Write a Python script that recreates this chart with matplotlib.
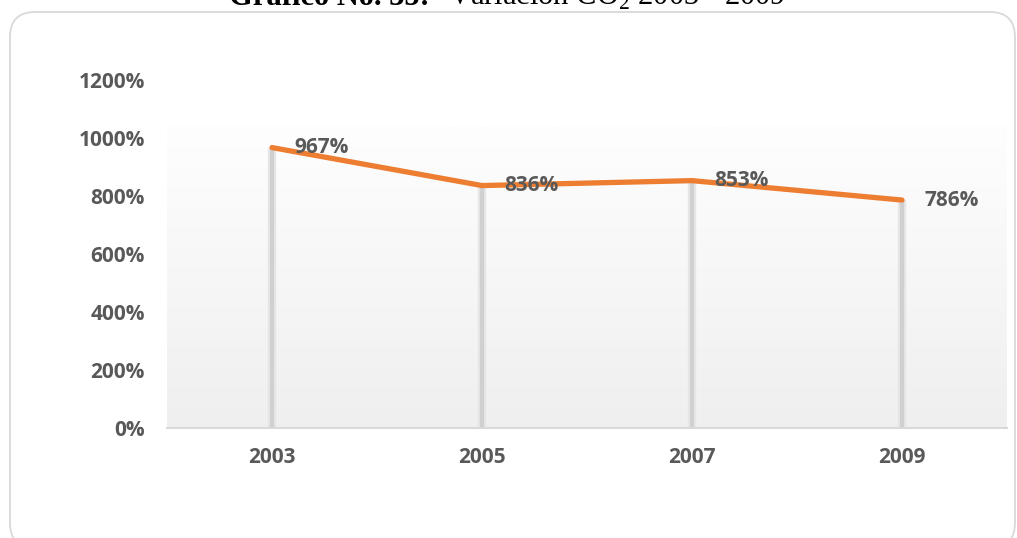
import matplotlib.pyplot as plt
import numpy as np
from matplotlib.patches import FancyBboxPatch
from matplotlib.colors import LinearSegmentedColormap

years = ['2003', '2005', '2007', '2009']
co2_change = [967, 836, 853, 786]
y_ticks = [0, 200, 400, 600, 800, 1000, 1200]

plt.rcParams['mathtext.fontset'] = 'custom'
plt.rcParams['mathtext.rm'] = 'Liberation Serif'

fig = plt.figure(figsize=(10.17, 5.38), dpi=100)

# rounded chart border
border = FancyBboxPatch((0.10, -0.10), 10.05, 5.36,
                        boxstyle='round,pad=0,rounding_size=0.25',
                        transform=fig.dpi_scale_trans, facecolor='none',
                        edgecolor='#d9d9d9', linewidth=1.3, zorder=0)
fig.patches.append(border)

# title, cut off at the top of the page
fig.text(430 / 1017, 1 - 5 / 538, 'Gráfico No. 35:', ha='right', va='baseline',
         fontsize=22, fontweight='bold', family='Liberation Serif')
fig.text(448 / 1017, 1 - 5 / 538, 'Variación CO$_2$ 2003 - 2009', ha='left',
         va='baseline', fontsize=22, family='Liberation Serif')

ax = fig.add_axes([167 / 1017, 1 - 428 / 538, 840 / 1017, 348 / 538])
ax.set_zorder(2)
ax.set_facecolor('none')
x = np.arange(len(years))

ax.set_xlim(-0.5, len(years) - 0.5)
ax.set_ylim(0, 1200)

# plot area fill: white fading to light grey
cmap = LinearSegmentedColormap.from_list('bg', ['#efefef', '#fefefe'])
grad = np.linspace(0, 1, 256).reshape(-1, 1)
ax.imshow(grad, cmap=cmap, origin='lower', aspect='auto',
          extent=[-0.5, len(years) - 0.5, 0, 1040], zorder=0)

# drop lines
ax.vlines(x, 0, co2_change, color='#e6e6e6', linewidth=6, zorder=1)
ax.vlines(x, 0, co2_change, color='#d0d0d0', linewidth=3, zorder=1)

ax.plot(x, co2_change, color='#ed7d31', linewidth=3.8,
        solid_capstyle='round', solid_joinstyle='round', zorder=3)

for xi, v in zip(x, co2_change):
    ax.annotate(f'{v}%', (xi, v), xytext=(16, 0), textcoords='offset points',
                ha='left', va='center', fontsize=15, fontweight='bold',
                family='Open Sans', color='#595959', zorder=4)

ax.set_xticks(x)
ax.set_xticklabels(years)
ax.set_yticks(y_ticks)
ax.set_yticklabels([f'{t}%' for t in y_ticks])
for lab in ax.get_xticklabels() + ax.get_yticklabels():
    lab.set_family('Open Sans')
    lab.set_fontweight('bold')
    lab.set_fontsize(15)
    lab.set_color('#595959')
ax.tick_params(axis='y', length=0, pad=16)
ax.tick_params(axis='x', length=0, pad=14)

for side in ['top', 'right', 'left']:
    ax.spines[side].set_visible(False)
ax.spines['bottom'].set_color('#d9d9d9')
ax.spines['bottom'].set_linewidth(1.5)
ax.spines['bottom'].set_zorder(2)

fig.savefig('out.png', dpi=100)
